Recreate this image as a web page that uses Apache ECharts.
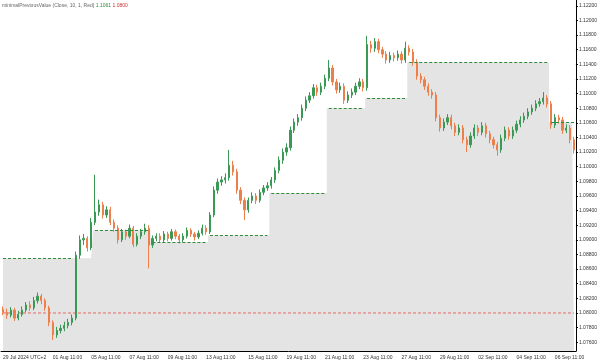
<!DOCTYPE html>
<html>
<head>
<meta charset="utf-8">
<script src="https://cdn.jsdelivr.net/npm/echarts@6/dist/echarts.min.js"></script>
<style>
html,body{margin:0;padding:0;background:#fff;}
#chart{width:600px;height:363px;}
</style>
</head>
<body>
<div id="chart"></div>
<script>
// candles (o, c, l, h)
var opens = [1.0805,1.0801,1.0797,1.0804,1.0793,1.0798,1.0804,1.0811,1.0807,1.0817,
    1.0823,1.0817,1.0807,1.0787,1.0770,1.0776,1.0779,1.0783,1.0787,1.0793,
    1.0879,1.0900,1.0902,1.0889,1.0924,1.0938,1.0948,1.0934,1.0941,1.0924,
    1.0916,1.0900,1.0911,1.0905,1.0916,1.0894,1.0905,1.0911,1.0916,1.0893,
    1.0902,1.0905,1.0900,1.0908,1.0902,1.0911,1.0905,1.0900,1.0905,1.0913,
    1.0908,1.0904,1.0909,1.0916,1.0911,1.0934,1.0968,1.0979,1.0982,1.0985,
    1.1002,1.0993,1.0968,1.0954,1.0941,1.0954,1.0960,1.0954,1.0965,1.0971,
    1.0974,1.0982,1.0995,1.1009,1.1020,1.1026,1.1050,1.1061,1.1067,1.1080,
    1.1091,1.1097,1.1108,1.1102,1.1110,1.1121,1.1135,1.1116,1.1105,1.1110,
    1.1091,1.1098,1.1102,1.1110,1.1116,1.1108,1.1167,1.1162,1.1171,1.1160,
    1.1154,1.1146,1.1152,1.1149,1.1154,1.1146,1.1162,1.1157,1.1143,1.1124,
    1.1119,1.1110,1.1102,1.1098,1.1067,1.1053,1.1061,1.1067,1.1056,1.1047,
    1.1053,1.1037,1.1030,1.1042,1.1053,1.1047,1.1056,1.1045,1.1037,1.1030,
    1.1023,1.1039,1.1050,1.1042,1.1050,1.1058,1.1064,1.1069,1.1075,1.1080,
    1.1086,1.1089,1.1094,1.1086,1.1057,1.1067,1.1064,1.1050,1.1053,1.1037];
var closes = [1.0801,1.0797,1.0804,1.0793,1.0798,1.0804,1.0811,1.0807,1.0817,1.0823,
    1.0817,1.0807,1.0787,1.0770,1.0776,1.0779,1.0783,1.0787,1.0793,1.0879,
    1.0900,1.0902,1.0889,1.0924,1.0938,1.0948,1.0934,1.0941,1.0924,1.0916,
    1.0900,1.0911,1.0905,1.0916,1.0894,1.0905,1.0911,1.0916,1.0893,1.0902,
    1.0905,1.0900,1.0908,1.0902,1.0911,1.0905,1.0900,1.0905,1.0913,1.0908,
    1.0904,1.0909,1.0916,1.0911,1.0934,1.0968,1.0979,1.0982,1.0985,1.1002,
    1.0993,1.0968,1.0954,1.0941,1.0954,1.0960,1.0954,1.0965,1.0971,1.0974,
    1.0982,1.0995,1.1009,1.1020,1.1026,1.1050,1.1061,1.1067,1.1080,1.1091,
    1.1097,1.1108,1.1102,1.1110,1.1121,1.1135,1.1116,1.1105,1.1110,1.1091,
    1.1098,1.1102,1.1110,1.1116,1.1108,1.1167,1.1162,1.1171,1.1160,1.1154,
    1.1146,1.1152,1.1149,1.1154,1.1146,1.1162,1.1157,1.1143,1.1124,1.1119,
    1.1110,1.1102,1.1098,1.1067,1.1053,1.1061,1.1067,1.1056,1.1047,1.1053,
    1.1037,1.1030,1.1042,1.1053,1.1047,1.1056,1.1045,1.1037,1.1030,1.1023,
    1.1039,1.1050,1.1042,1.1050,1.1058,1.1064,1.1069,1.1075,1.1080,1.1086,
    1.1089,1.1094,1.1086,1.1057,1.1067,1.1064,1.1050,1.1053,1.1037,1.1023];
var lows = [1.0797,1.0792,1.0794,1.0789,1.0790,1.0795,1.0801,1.0803,1.0804,1.0813,
    1.0812,1.0803,1.0782,1.0763,1.0766,1.0772,1.0775,1.0779,1.0783,1.0790,
    1.0874,1.0893,1.0884,1.0886,1.0920,1.0933,1.0929,1.0930,1.0920,1.0911,
    1.0895,1.0897,1.0900,1.0902,1.0890,1.0891,1.0901,1.0907,1.0861,1.0889,
    1.0898,1.0896,1.0897,1.0898,1.0899,1.0901,1.0895,1.0897,1.0902,1.0904,
    1.0899,1.0901,1.0906,1.0907,1.0908,1.0931,1.0963,1.0974,1.0977,1.0981,
    1.0988,1.0963,1.0949,1.0927,1.0937,1.0950,1.0949,1.0951,1.0961,1.0967,
    1.0970,1.0978,1.0991,1.1004,1.1015,1.1022,1.1046,1.1056,1.1063,1.1076,
    1.1087,1.1093,1.1097,1.1098,1.1106,1.1117,1.1111,1.1100,1.1101,1.1086,
    1.1087,1.1094,1.1098,1.1106,1.1103,1.1104,1.1156,1.1157,1.1155,1.1149,
    1.1141,1.1142,1.1144,1.1145,1.1141,1.1142,1.1152,1.1138,1.1119,1.1114,
    1.1105,1.1097,1.1093,1.1062,1.1048,1.1049,1.1057,1.1051,1.1042,1.1043,
    1.1032,1.1020,1.1026,1.1038,1.1042,1.1043,1.1040,1.1032,1.1025,1.1015,
    1.1019,1.1035,1.1037,1.1038,1.1046,1.1054,1.1060,1.1065,1.1071,1.1076,
    1.1082,1.1085,1.1081,1.1052,1.1053,1.1059,1.1045,1.1046,1.1032,1.1018];
var highs = [1.0809,1.0806,1.0808,1.0807,1.0803,1.0809,1.0815,1.0816,1.0822,1.0828,
    1.0826,1.0820,1.0810,1.0790,1.0781,1.0784,1.0788,1.0792,1.0798,1.0884,
    1.0906,1.0908,1.0905,1.0930,1.0989,1.0955,1.0952,1.0946,1.0945,1.0928,
    1.0920,1.0915,1.0914,1.0921,1.0919,1.0909,1.0915,1.0922,1.0920,1.0906,
    1.0909,1.0909,1.0912,1.0911,1.0915,1.0914,1.0908,1.0909,1.0917,1.0916,
    1.0911,1.0913,1.0921,1.0920,1.0938,1.0973,1.0984,1.0987,1.0991,1.1023,
    1.1008,1.0997,1.0972,1.0958,1.0958,1.0965,1.0964,1.0969,1.0975,1.0979,
    1.0986,1.0999,1.1014,1.1025,1.1032,1.1055,1.1066,1.1072,1.1085,1.1096,
    1.1102,1.1113,1.1112,1.1115,1.1126,1.1146,1.1139,1.1120,1.1115,1.1114,
    1.1103,1.1107,1.1115,1.1121,1.1120,1.1179,1.1172,1.1176,1.1175,1.1164,
    1.1158,1.1157,1.1156,1.1159,1.1158,1.1171,1.1166,1.1161,1.1147,1.1128,
    1.1123,1.1114,1.1106,1.1102,1.1071,1.1066,1.1072,1.1071,1.1060,1.1058,
    1.1057,1.1041,1.1047,1.1058,1.1057,1.1061,1.1060,1.1049,1.1041,1.1034,
    1.1044,1.1055,1.1054,1.1055,1.1063,1.1069,1.1074,1.1080,1.1085,1.1091,
    1.1094,1.1102,1.1098,1.1090,1.1072,1.1071,1.1068,1.1058,1.1057,1.1041];

// stepped indicator levels (candle index ranges)
var levelStart = [0, 24, 39, 54, 70, 85, 95, 106, 143];
var levelEnd   = [23, 38, 53, 69, 84, 94, 105, 142, 149];
var dashEnd    = [18, 38, 53, 69, 84, 94, 105, 142, 149];
var levelValue = [1.0875, 1.0913, 1.0897, 1.0906, 1.0964, 1.1080, 1.1094, 1.1143, 1.1061];
var redLevel = 1.0800;

var yTicks = [1.076,1.078,1.080,1.082,1.084,1.086,1.088,1.090,1.092,1.094,1.096,1.098,
    1.100,1.102,1.104,1.106,1.108,1.110,1.112,1.114,1.116,1.118,1.120,1.122];
var xTickIdx = [0, 13, 23, 33, 43, 53, 64, 74, 84, 94, 104, 114, 124, 134, 144];
var xTickText = ['29 Jul 2024 UTC+2','01 Aug 11:00','05 Aug 11:00','07 Aug 11:00','09 Aug 11:00',
    '13 Aug 11:00','15 Aug 11:00','19 Aug 11:00','21 Aug 11:00','23 Aug 11:00',
    '27 Aug 11:00','29 Aug 11:00','02 Sep 11:00','04 Sep 11:00','06 Sep 11:00'];

var cats = [], candles = [], fill = [], redLine = [];
for (var i = 0; i < closes.length; i++) {
    cats.push(String(i));
    candles.push([opens[i], closes[i], lows[i], highs[i]]);
    fill.push(null);
    redLine.push(redLevel);
}
for (var k = 0; k < levelStart.length; k++) {
    for (var j = levelStart[k]; j <= levelEnd[k]; j++) fill[j] = levelValue[k];
}
var dashLines = [];
for (var k = 0; k < levelStart.length; k++) {
    dashLines.push([{coord: [levelStart[k], levelValue[k]]}, {coord: [dashEnd[k], levelValue[k]]}]);
}

var myChart = echarts.init(document.getElementById('chart'));
var option = {
    backgroundColor: '#fff',
    animation: false,
    grid: {left: 0, right: 20, top: 0, bottom: 12},
    graphic: [{
        type: 'text', left: 2, top: 3,
        style: {
            text: 'minimalPreviousValue (Close, 10, 1, Red) {g|1.1061} {r|1.0800}',
            fontSize: 5, fill: '#666', fontFamily: 'Liberation Sans',
            rich: {g: {fill: '#2e8b3a', fontSize: 5}, r: {fill: '#d03030', fontSize: 5}}
        }
    }],
    xAxis: {
        type: 'category',
        data: cats,
        boundaryGap: true,
        axisLine: {lineStyle: {color: '#000', width: 1}},
        axisTick: {
            alignWithLabel: true, length: 3, lineStyle: {color: '#000'},
            interval: function (idx) { return xTickIdx.indexOf(idx) >= 0; }
        },
        axisLabel: {
            fontSize: 5, color: '#333', fontFamily: 'Liberation Sans', align: 'left', margin: 4,
            showMinLabel: true, hideOverlap: false,
            interval: function (idx) { return xTickIdx.indexOf(idx) >= 0; },
            formatter: function (v, idx) {
                var p = xTickIdx.indexOf(idx);
                return p >= 0 ? xTickText[p] : '';
            }
        },
        splitLine: {show: false}
    },
    yAxis: {
        type: 'value',
        position: 'right',
        min: 1.0748,
        max: 1.1228,
        axisLine: {show: true, lineStyle: {color: '#000', width: 1}},
        axisTick: {show: true, length: 2, customValues: yTicks, lineStyle: {color: '#000'}},
        axisLabel: {
            fontSize: 5, color: '#333', fontFamily: 'Liberation Sans', margin: 3,
            customValues: yTicks,
            formatter: function (v) { return v.toFixed(5); }
        },
        splitLine: {show: false}
    },
    series: [
        {
            type: 'line',
            data: fill,
            step: 'middle',
            showSymbol: false,
            connectNulls: true,
            silent: true,
            z: 1,
            lineStyle: {width: 0, opacity: 0},
            areaStyle: {color: '#e4e4e4', opacity: 1, origin: 'start'},
            markLine: {
                silent: true,
                symbol: 'none',
                label: {show: false},
                lineStyle: {color: '#2f8a3a', type: [3, 2], width: 1},
                data: dashLines
            }
        },
        {
            type: 'line',
            data: redLine,
            showSymbol: false,
            silent: true,
            z: 2,
            lineStyle: {color: '#e8645f', type: [3, 2], width: 1}
        },
        {
            type: 'candlestick',
            data: candles,
            z: 3,
            barWidth: '45%',
            itemStyle: {
                color: '#3a9a55',
                color0: '#ec7f4a',
                borderColor: '#3a9a55',
                borderColor0: '#ec7f4a',
                borderWidth: 1
            }
        }
    ]
};
myChart.setOption(option);
</script>
</body>
</html>
